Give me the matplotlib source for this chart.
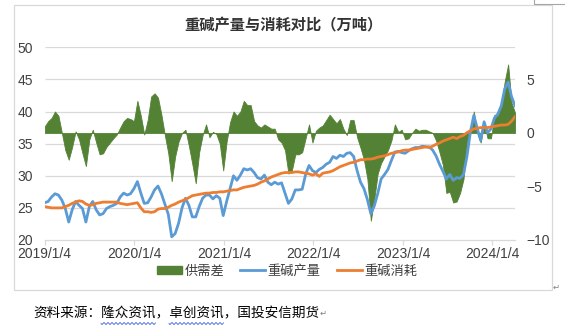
import matplotlib
matplotlib.use("Agg")
import matplotlib.pyplot as plt
import numpy as np
import pandas as pd
from matplotlib.lines import Line2D
from matplotlib.patches import Patch, Rectangle

# Weekly soda ash data sampled every two weeks (万吨)
start_date = "2019-01-04"

production = [
    25.8, 26.0, 26.7, 27.2, 27.0, 26.2, 24.9, 22.8, 24.7, 26.0, 25.4, 24.9, 22.8, 25.2,
    26.0, 24.7, 23.9, 24.1, 24.9, 25.2, 25.4, 25.7, 26.7, 27.3, 27.0, 27.2, 28.0, 29.1,
    27.3, 25.7, 25.8, 26.7, 27.8, 28.4, 27.2, 25.6, 24.0, 20.5, 21.0, 22.6, 25.0, 26.5,
    25.4, 23.6, 23.6, 25.2, 26.5, 27.0, 27.0, 26.4, 26.9, 26.5, 23.8, 26.0, 28.0, 30.0,
    29.3, 30.1, 31.1, 30.9, 31.1, 30.5, 29.7, 29.5, 30.1, 29.0, 28.6, 29.0, 28.7, 28.9,
    27.3, 25.7, 26.4, 27.8, 27.8, 27.9, 30.2, 31.6, 30.8, 30.5, 31.0, 31.3, 31.8, 32.1,
    33.0, 32.7, 33.2, 33.0, 33.5, 33.6, 33.0, 30.8, 29.0, 28.0, 26.3, 24.1, 25.3, 27.2,
    29.5, 30.2, 31.0, 32.4, 33.7, 33.8, 33.6, 33.5, 33.9, 34.2, 34.4, 34.4, 34.6, 34.5,
    34.5, 34.0, 33.1, 31.8, 30.7, 29.5, 30.2, 29.3, 29.7, 29.6, 30.2, 33.0, 36.8, 39.4,
    37.4, 35.5, 38.4, 36.7, 37.3, 39.0, 39.6, 40.9, 43.5, 44.6, 42.3, 40.9,
]

consumption = [
    25.2, 25.1, 25.0, 25.0, 25.0, 25.0, 25.2, 25.4, 25.7, 25.9, 26.1, 26.0, 25.6, 25.4,
    25.5, 25.7, 25.8, 25.9, 25.9, 25.9, 25.9, 25.9, 25.7, 25.6, 25.5, 25.6, 25.7, 25.8,
    25.0, 24.4, 24.4, 24.3, 24.4, 24.8, 24.9, 24.9, 25.1, 25.4, 25.6, 25.9, 26.1, 26.3,
    26.6, 26.9, 27.0, 27.1, 27.2, 27.3, 27.3, 27.4, 27.4, 27.5, 27.5, 27.6, 27.7, 27.8,
    27.8, 28.0, 28.2, 28.3, 28.4, 28.5, 28.7, 29.0, 29.2, 29.5, 29.8, 30.0, 30.2, 30.4,
    30.5, 30.5, 30.5, 30.6, 30.6, 30.5, 30.4, 30.3, 30.1, 30.3, 29.9, 30.4, 30.5, 30.6,
    30.8, 31.1, 31.4, 31.6, 31.8, 32.0, 32.1, 32.3, 32.5, 32.5, 32.6, 32.6, 32.7, 32.9,
    33.0, 33.1, 33.3, 33.5, 33.6, 33.7, 33.9, 34.0, 34.0, 34.1, 34.2, 34.3, 34.4, 34.5,
    34.4, 34.6, 34.9, 35.1, 35.4, 35.6, 35.8, 36.0, 35.8, 36.1, 36.3, 36.7, 37.0, 37.3,
    37.4, 37.5, 37.5, 37.5, 37.6, 37.7, 37.8, 37.9, 37.9, 38.0, 38.5, 39.2,
]

gap = [
    0.6, 1.1, 1.4, 2.0, 1.6, 0.0, -1.6, -2.5, -1.3, 0.15, -0.6, -1.9, -3.1, -0.6,
    0.3, -0.9, -2.0, -1.9, -1.3, -0.9, -0.5, -0.15, 0.5, 1.1, 1.4, 1.3, 1.1, 3.0,
    1.6, -0.15, 1.2, 3.4, 3.7, 3.3, 1.7, -0.2, -1.9, -4.5, -2.2, -0.8, 0.0, 0.3,
    -1.2, -2.9, -4.7, -1.8, -0.2, 0.8, -0.4, 0.1, -0.1, -1.0, -3.5, -0.8, 1.0, 2.0,
    1.6, 2.0, 3.0, 2.6, 2.6, 1.1, 0.7, 0.5, 0.8, 0.6, 0.4, 0.4, -0.6, -0.9,
    -1.6, -3.8, -3.5, -2.0, -2.0, -1.8, -0.5, 0.8, -0.9, 0.2, 0.5, 0.7, 1.2, 1.7,
    1.3, 0.9, 1.3, 0.4, -0.2, 1.2, 1.2, -0.4, -1.4, -2.5, -4.3, -8.2, -6.2, -3.8,
    -2.8, -2.2, -1.6, -0.7, 0.8, 0.1, 0.3, -0.6, -0.5, 0.0, 0.4, 0.2, 0.3, 0.3,
    0.15, 0.0, -0.7, -1.8, -3.0, -5.6, -5.5, -6.5, -6.4, -5.6, -4.3, -0.8, 0.0, 2.0,
    0.0, -0.9, 0.9, -0.5, -0.5, 1.7, 1.6, 2.7, 4.8, 6.4, 2.8, 1.9,
]

tick_dates = ["2019-01-04", "2020-01-04", "2021-01-04", "2022-01-04", "2023-01-04", "2024-01-04"]
tick_labels = ["2019/1/4", "2020/1/4", "2021/1/4", "2022/1/4", "2023/1/4", "2024/1/4"]
left_ticks = [20, 25, 30, 35, 40, 45, 50]
right_ticks = [-10, -5, 0, 5]

dates = pd.date_range(start_date, periods=len(production), freq="14D")

W, H = 565, 331
CJK = ["Noto Sans CJK SC", "DejaVu Sans"]
LAT = ["Liberation Sans", "DejaVu Sans"]
TXT = "#404040"
GREEN, BLUE, ORANGE, GRID = "#548235", "#5B9BD5", "#ED7D31", "#D9D9D9"

fig = plt.figure(figsize=(W / 100, H / 100), dpi=100)


def px_rect(x0, y0, x1, y1):
    return [x0 / W, 1 - y1 / H, (x1 - x0) / W, (y1 - y0) / H]


ax = fig.add_axes(px_rect(44.7, 47.3, 515, 240))
ax2 = ax.twinx()
ax.set_zorder(2)
ax2.set_zorder(1)
ax.patch.set_visible(False)

x0, x1 = pd.Timestamp(start_date), dates[-1]
ax.set_xlim(x0, x1)
ax.set_ylim(20, 50)
ax2.set_ylim(-10, 8)

# horizontal gridlines follow the left scale, kept behind the area
ax2.hlines(left_ticks[1:], 0, 1, transform=ax.get_yaxis_transform(),
           colors=GRID, linewidth=0.9, zorder=0)

ax2.fill_between(dates, gap, 0, color=GREEN, linewidth=0.6, edgecolor=GREEN, zorder=2)
ax.plot(dates, production, color=BLUE, linewidth=2.0, solid_joinstyle="round")
ax.plot(dates, consumption, color=ORANGE, linewidth=2.0, solid_joinstyle="round")

for a in (ax, ax2):
    for s in a.spines.values():
        s.set_visible(False)
ax.spines["bottom"].set_visible(True)
ax.spines["bottom"].set_color(GRID)
ax.spines["bottom"].set_linewidth(0.9)

ax.set_xticks(pd.to_datetime(tick_dates))
ax.set_xticklabels(tick_labels, fontfamily=LAT, fontsize=10, color=TXT)
ax.tick_params(axis="x", length=3.6, width=0.9, color=GRID, pad=1.5)

ax.set_yticks(left_ticks)
ax.set_yticklabels([str(v) for v in left_ticks], fontfamily=LAT, fontsize=10, color=TXT)
ax.tick_params(axis="y", length=0, pad=8.5)

ax2.set_yticks(right_ticks)
ax2.set_yticklabels([("\u2212" + str(-v)) if v < 0 else str(v) for v in right_ticks],
                    fontfamily=LAT, fontsize=10, color=TXT)
ax2.tick_params(axis="y", length=0, pad=8.5)

fig.text(283 / W, 1 - 25 / H, "重碱产量与消耗对比（万吨）", ha="center", va="center",
         fontfamily=CJK, fontsize=11, fontweight="bold", color="#333333")

handles = [Patch(facecolor=GREEN, edgecolor=GREEN),
           Line2D([], [], color=BLUE, linewidth=2.0),
           Line2D([], [], color=ORANGE, linewidth=2.0)]
leg = fig.legend(handles, ["供需差", "重碱产量", "重碱消耗"], loc="center",
                 bbox_to_anchor=(287 / W, 1 - 271 / H), ncol=3, frameon=False,
                 handlelength=1.9, handleheight=0.5, handletextpad=0.2, columnspacing=1.2,
                 prop={"family": CJK, "size": 9.5})
for t in leg.get_texts():
    t.set_color(TXT)

# chart border
fig.add_artist(Rectangle((14 / W, 1 - 290 / H), (552 - 14) / W, (290 - 5) / H,
                         transform=fig.transFigure, fill=False, edgecolor=GRID, linewidth=0.9))
fig.add_artist(Line2D([534 / W, 534 / W, 1], [1, 1 - 4 / H, 1 - 4 / H],
                      transform=fig.transFigure, color="#A6A6A6", linewidth=0.8))
fig.text(556 / W, 1 - 287 / H, "\u21b5", ha="center", va="center",
         fontfamily=["DejaVu Sans"], fontsize=6, color="#808080")

# source line
em = 13.6
src_y = 313
src = "资料来源：隆众资讯，卓创资讯，国投安信期货"
fig.text(33 / W, 1 - src_y / H, src, ha="left", va="center",
         fontfamily=CJK, fontsize=em * 0.72, color="#000000")
fig.text((33 + em * len(src) + 4) / W, 1 - src_y / H, "\u21b5", ha="center", va="center",
         fontfamily=["DejaVu Sans"], fontsize=6, color="#808080")


def wavy(xa, xb, y):
    xs = np.linspace(xa, xb, int((xb - xa) * 3))
    ys = y + 0.9 * np.sin((xs - xa) / 4.0 * 2 * np.pi)
    fig.add_artist(Line2D(xs / W, 1 - ys / H, transform=fig.transFigure,
                          color="#3B5BDB", linewidth=0.6))


wavy(33 + em * 5, 33 + em * 9, src_y + 10.5)
wavy(33 + em * 10, 33 + em * 14, src_y + 10.5)

fig.savefig("out.png", dpi=100)
